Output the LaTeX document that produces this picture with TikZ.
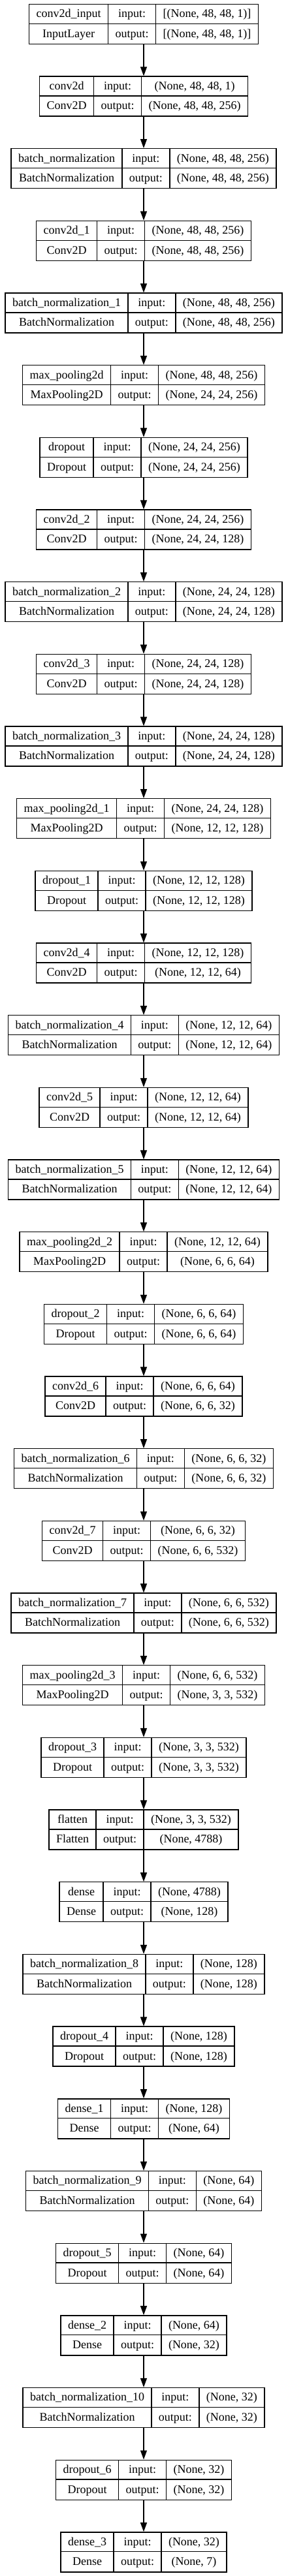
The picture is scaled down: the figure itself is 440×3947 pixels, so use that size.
\documentclass[tikz,border=0pt]{standalone}
\usepackage{fontspec}
\setmainfont{Liberation Serif}
\usetikzlibrary{arrows.meta,calc}

\newlength\wname
\newlength\wtmp
\newlength\wshape
\newlength\wio
\newcommand\lfont{\fontsize{18}{20}\selectfont}

\tikzset{
  layerbox/.style={draw, line width=1.33pt, minimum height=61pt, inner sep=0pt},
  cell/.style={line width=1.33pt},
  txt/.style={font=\lfont, inner sep=0pt, anchor=base},
  flow/.style={-{Triangle[length=14pt,width=10pt]}, line width=1.33pt}
}

% measure the two text columns (outside the picture's nullfont)
\newcommand\measure[4]{%
  \pgfinterruptpicture
    \settowidth\wtmp{\normalfont\lfont #1}\global\wname=\wtmp
    \settowidth\wtmp{\normalfont\lfont #2}\ifdim\wtmp>\wname \global\wname=\wtmp\fi
    \settowidth\wtmp{\normalfont\lfont #3}\global\wshape=\wtmp
    \settowidth\wtmp{\normalfont\lfont #4}\ifdim\wtmp>\wshape \global\wshape=\wtmp\fi
    \settowidth\wtmp{\normalfont\lfont output:}\global\wio=\wtmp
  \endpgfinterruptpicture
}

% #1 node, #2 row, #3 layer name, #4 class, #5 input shape, #6 output shape
\newcommand\layer[6]{%
  \measure{#3}{#4}{#5}{#6}%
  \pgfmathsetmacro\colL{\wname+22}%
  \pgfmathsetmacro\colM{\wio+22}%
  \pgfmathsetmacro\colR{\wshape+22}%
  \pgfmathsetmacro\pxl{220-(\colL+\colM+\colR)/2}%
  \pgfmathsetmacro\pxa{\pxl+\colL}%
  \pgfmathsetmacro\pxb{\pxa+\colM}%
  \pgfmathsetmacro\pxr{\pxb+\colR}%
  \pgfmathsetmacro\pyt{-5.7-110.67*#2}%
  \pgfmathsetmacro\pyb{\pyt-61}%
  \pgfmathsetmacro\pym{\pyt-30.5}%
  \node[layerbox, minimum width=\pxr-\pxl, anchor=north] (#1) at (220,\pyt) {};
  \draw[cell] (\pxl,\pym) -- (\pxr,\pym) (\pxa,\pyt) -- (\pxa,\pyb) (\pxb,\pyt) -- (\pxb,\pyb);
  \node[txt] at ({(\pxl+\pxa)/2},\pyt-21) {#3};
  \node[txt] at ({(\pxl+\pxa)/2},\pyt-51.5) {#4};
  \node[txt] at ({(\pxa+\pxb)/2},\pyt-21) {input:};
  \node[txt] at ({(\pxa+\pxb)/2},\pyt-51.5) {output:};
  \node[txt] at ({(\pxb+\pxr)/2},\pyt-21) {#5};
  \node[txt] at ({(\pxb+\pxr)/2},\pyt-51.5) {#6};
}

\begin{document}
\begin{tikzpicture}[x=1pt,y=1pt]
\useasboundingbox (0,0) rectangle (440,-3947);

\layer{inp}{0}{conv2d\_input}{InputLayer}{[(None, 48, 48, 1)]}{[(None, 48, 48, 1)]}
\layer{conv}{1}{conv2d}{Conv2D}{(None, 48, 48, 1)}{(None, 48, 48, 256)}
\layer{bn}{2}{batch\_normalization}{BatchNormalization}{(None, 48, 48, 256)}{(None, 48, 48, 256)}
\layer{conv1}{3}{conv2d\_1}{Conv2D}{(None, 48, 48, 256)}{(None, 48, 48, 256)}
\layer{bn1}{4}{batch\_normalization\_1}{BatchNormalization}{(None, 48, 48, 256)}{(None, 48, 48, 256)}
\layer{pool}{5}{max\_pooling2d}{MaxPooling2D}{(None, 48, 48, 256)}{(None, 24, 24, 256)}
\layer{drop}{6}{dropout}{Dropout}{(None, 24, 24, 256)}{(None, 24, 24, 256)}
\layer{conv2}{7}{conv2d\_2}{Conv2D}{(None, 24, 24, 256)}{(None, 24, 24, 128)}
\layer{bn2}{8}{batch\_normalization\_2}{BatchNormalization}{(None, 24, 24, 128)}{(None, 24, 24, 128)}
\layer{conv3}{9}{conv2d\_3}{Conv2D}{(None, 24, 24, 128)}{(None, 24, 24, 128)}
\layer{bn3}{10}{batch\_normalization\_3}{BatchNormalization}{(None, 24, 24, 128)}{(None, 24, 24, 128)}
\layer{pool1}{11}{max\_pooling2d\_1}{MaxPooling2D}{(None, 24, 24, 128)}{(None, 12, 12, 128)}
\layer{drop1}{12}{dropout\_1}{Dropout}{(None, 12, 12, 128)}{(None, 12, 12, 128)}
\layer{conv4}{13}{conv2d\_4}{Conv2D}{(None, 12, 12, 128)}{(None, 12, 12, 64)}
\layer{bn4}{14}{batch\_normalization\_4}{BatchNormalization}{(None, 12, 12, 64)}{(None, 12, 12, 64)}
\layer{conv5}{15}{conv2d\_5}{Conv2D}{(None, 12, 12, 64)}{(None, 12, 12, 64)}
\layer{bn5}{16}{batch\_normalization\_5}{BatchNormalization}{(None, 12, 12, 64)}{(None, 12, 12, 64)}
\layer{pool2}{17}{max\_pooling2d\_2}{MaxPooling2D}{(None, 12, 12, 64)}{(None, 6, 6, 64)}
\layer{drop2}{18}{dropout\_2}{Dropout}{(None, 6, 6, 64)}{(None, 6, 6, 64)}
\layer{conv6}{19}{conv2d\_6}{Conv2D}{(None, 6, 6, 64)}{(None, 6, 6, 32)}
\layer{bn6}{20}{batch\_normalization\_6}{BatchNormalization}{(None, 6, 6, 32)}{(None, 6, 6, 32)}
\layer{conv7}{21}{conv2d\_7}{Conv2D}{(None, 6, 6, 32)}{(None, 6, 6, 532)}
\layer{bn7}{22}{batch\_normalization\_7}{BatchNormalization}{(None, 6, 6, 532)}{(None, 6, 6, 532)}
\layer{pool3}{23}{max\_pooling2d\_3}{MaxPooling2D}{(None, 6, 6, 532)}{(None, 3, 3, 532)}
\layer{drop3}{24}{dropout\_3}{Dropout}{(None, 3, 3, 532)}{(None, 3, 3, 532)}
\layer{flat}{25}{flatten}{Flatten}{(None, 3, 3, 532)}{(None, 4788)}
\layer{dense}{26}{dense}{Dense}{(None, 4788)}{(None, 128)}
\layer{bn8}{27}{batch\_normalization\_8}{BatchNormalization}{(None, 128)}{(None, 128)}
\layer{drop4}{28}{dropout\_4}{Dropout}{(None, 128)}{(None, 128)}
\layer{dense1}{29}{dense\_1}{Dense}{(None, 128)}{(None, 64)}
\layer{bn9}{30}{batch\_normalization\_9}{BatchNormalization}{(None, 64)}{(None, 64)}
\layer{drop5}{31}{dropout\_5}{Dropout}{(None, 64)}{(None, 64)}
\layer{dense2}{32}{dense\_2}{Dense}{(None, 64)}{(None, 32)}
\layer{bn10}{33}{batch\_normalization\_10}{BatchNormalization}{(None, 32)}{(None, 32)}
\layer{drop6}{34}{dropout\_6}{Dropout}{(None, 32)}{(None, 32)}
\layer{dense3}{35}{dense\_3}{Dense}{(None, 32)}{(None, 7)}

% arrows
\foreach \a/\b in {inp/conv, conv/bn, bn/conv1, conv1/bn1, bn1/pool, pool/drop,
  drop/conv2, conv2/bn2, bn2/conv3, conv3/bn3, bn3/pool1, pool1/drop1,
  drop1/conv4, conv4/bn4, bn4/conv5, conv5/bn5, bn5/pool2, pool2/drop2,
  drop2/conv6, conv6/bn6, bn6/conv7, conv7/bn7, bn7/pool3, pool3/drop3,
  drop3/flat, flat/dense, dense/bn8, bn8/drop4, drop4/dense1, dense1/bn9,
  bn9/drop5, drop5/dense2, dense2/bn10, bn10/drop6, drop6/dense3}
  \draw[flow] (\a.south) -- (\b.north);
\end{tikzpicture}
\end{document}
